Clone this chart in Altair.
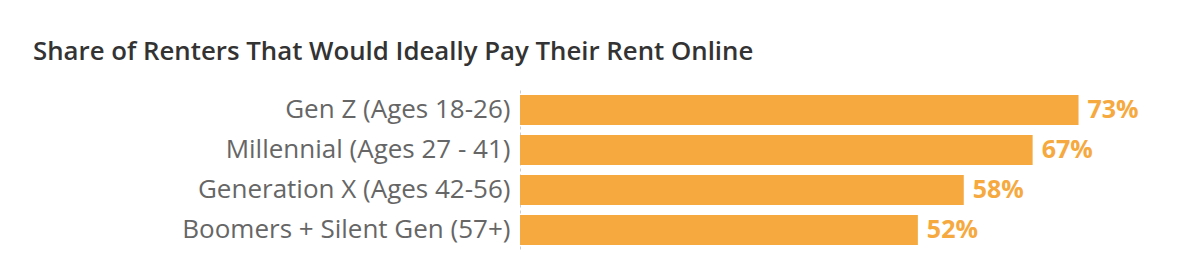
import altair as alt
import pandas as pd

categories = ["Gen Z (Ages 18-26)", "Millennial (Ages 27 - 41)", "Generation X (Ages 42-56)", "Boomers + Silent Gen (57+)"]
shares = [73, 67, 58, 52]
labels = ["73%", "67%", "58%", "52%"]

df = pd.DataFrame({"cat": categories, "share": shares, "label": labels})

orange = "#F6A93E"

base = alt.Chart(df).encode(
    y=alt.Y("cat:N", sort=categories, title=None,
            scale=alt.Scale(paddingInner=0.25, paddingOuter=0.125),
            axis=alt.Axis(labelFont="Open Sans", labelFontSize=26, labelColor="#666666",
                          ticks=False, labelPadding=10, domain=True, domainColor="#cccccc",
                          domainDash=[3, 3], domainWidth=1, labelLimit=500)),
    x=alt.X("share:Q", title=None, scale=alt.Scale(domain=[0, 86]), axis=None),
)

bars = base.mark_bar(color=orange, cornerRadius=0)
text = base.mark_text(align="left", dx=9, baseline="middle", font="Open Sans", fontSize=25,
                      fontWeight="bold", color=orange).encode(text="label:N")

chart = (bars + text).properties(
    width=658, height=160,
    title=alt.TitleParams("Share of Renters That Would Ideally Pay Their Rent Online",
                          anchor="start", frame="group", dx=-487, offset=24, font="Open Sans",
                          fontSize=25.8, fontWeight=600, color="#333333"),
    autosize=alt.AutoSizeParams(type="none"),
    padding={"left": 520, "top": 90, "right": 0, "bottom": 0},
).configure_view(stroke=None)

chart.save("out.html", embed_options={"renderer": "svg", "actions": False})
